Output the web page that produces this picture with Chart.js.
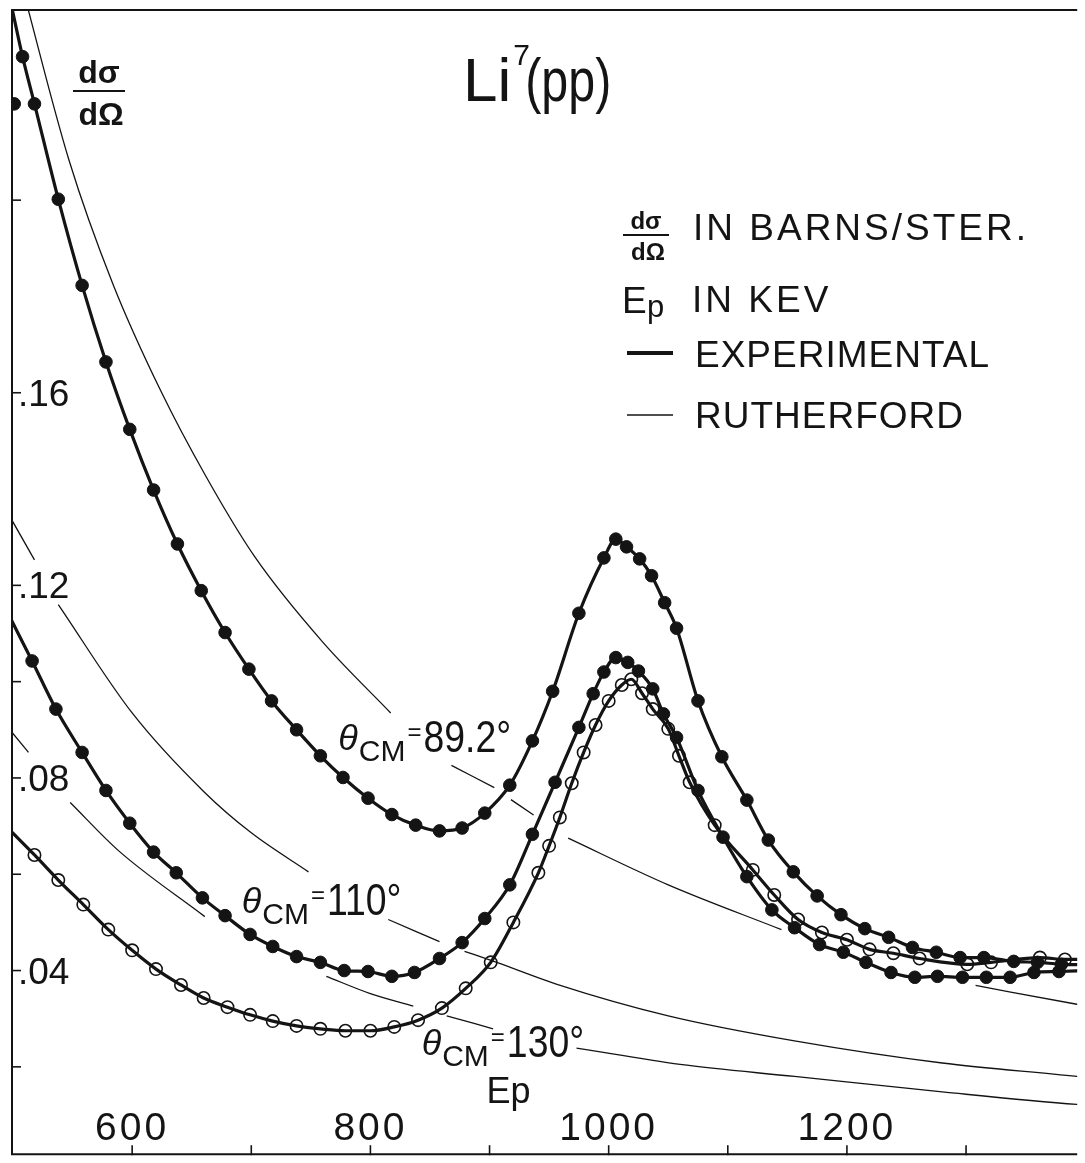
<!DOCTYPE html>
<html lang="en">
<head>
<meta charset="UTF-8">
<title>Li7(pp) elastic scattering</title>
<script src="https://cdn.jsdelivr.net/npm/chart.js"></script>
<style>
  html, body { margin: 0; padding: 0; background: #fff; }
  canvas { display: block; }
</style>
</head>
<body>
<canvas id="chart" width="1085" height="1163"></canvas>
<script>
// proton energy Ep (keV) and d(sigma)/d(Omega) (barns/ster)
const e89 = [508, 518, 538, 558, 578, 598, 618, 638, 658, 678, 698, 717, 738, 758, 777, 798, 818, 838, 858, 877, 896, 917, 936, 953,
             975, 996, 1006, 1015, 1026, 1036, 1047, 1057, 1075, 1095, 1116, 1134, 1155, 1175, 1195, 1215, 1235, 1255, 1275, 1295, 1315, 1340, 1360, 1380];
const v89 = [0.2298, 0.2200, 0.2002, 0.1823, 0.1664, 0.1524, 0.1398, 0.1286, 0.1189, 0.1102, 0.1026, 0.0960, 0.0900, 0.0846, 0.0801, 0.0758,
             0.0724, 0.0702, 0.0690, 0.0696, 0.0727, 0.0785, 0.0877, 0.0980, 0.1142, 0.1257, 0.1296, 0.1280, 0.1255, 0.1220, 0.1164, 0.1111,
             0.0960, 0.0844, 0.0754, 0.0671, 0.0605, 0.0555, 0.0516, 0.0487, 0.0469, 0.0448, 0.0438, 0.0427, 0.0427, 0.0419, 0.0417, 0.0413];
const ends89 = [[499, 0.2400], [1400, 0.0412]];

const e110 = [516, 536, 558, 578, 598, 618, 637, 659, 678, 699, 718, 738, 758, 778, 798, 818, 837, 858, 877, 896, 917, 936, 955,
              975, 987, 996, 1006, 1016, 1025, 1037, 1046, 1057, 1075, 1096, 1116, 1137, 1156, 1177, 1197, 1216, 1237, 1257, 1276, 1297, 1317, 1337, 1357, 1378];
const v110 = [0.1043, 0.0943, 0.0853, 0.0774, 0.0706, 0.0646, 0.0603, 0.0551, 0.0514, 0.0475, 0.0450, 0.0429, 0.0417, 0.0400, 0.0398, 0.0388,
              0.0396, 0.0425, 0.0458, 0.0508, 0.0578, 0.0683, 0.0791, 0.0905, 0.0975, 0.1020, 0.1050, 0.1040, 0.1022, 0.0985, 0.0933, 0.0884,
              0.0774, 0.0677, 0.0595, 0.0526, 0.0489, 0.0454, 0.0438, 0.0417, 0.0396, 0.0386, 0.0388, 0.0386, 0.0386, 0.0386, 0.0396, 0.0398];
const ends110 = [[498, 0.1131], [1400, 0.0400]];

const e130 = [518, 538, 559, 580, 600, 620, 641, 660, 680, 699, 718, 738, 758, 779, 800, 820, 840, 860, 880, 901, 920, 941, 950, 959,
              969, 979, 989, 1000, 1011, 1019, 1028, 1037, 1050, 1059, 1068, 1089, 1121, 1139, 1159, 1179, 1200, 1219, 1239, 1261, 1301, 1321, 1362, 1383];
const v130 = [0.0640, 0.0588, 0.0537, 0.0485, 0.0442, 0.0403, 0.0370, 0.0343, 0.0324, 0.0308, 0.0295, 0.0285, 0.0279, 0.0275, 0.0275, 0.0283,
              0.0297, 0.0322, 0.0363, 0.0417, 0.0500, 0.0603, 0.0659, 0.0718, 0.0789, 0.0853, 0.0910, 0.0960, 0.0993, 0.1005, 0.0976, 0.0943,
              0.0902, 0.0846, 0.0791, 0.0702, 0.0609, 0.0557, 0.0506, 0.0479, 0.0464, 0.0444, 0.0436, 0.0425, 0.0413, 0.0417, 0.0427, 0.0423];
const ends130 = [[498, 0.0690], [1400, 0.0423]];

// lone mark at the left edge
const eLone = [501];
const vLone = [0.2200];

// Rutherford curves, null = pen lifted
const eR89 = [508, 547, 584, 624, 662, 703, 760, 817, 840, 868, 904, 911, 918, 937, 950, 966, 1050, 1145, 1220, 1308, 1393, 1400];
const vR89 = [0.2440, 0.2083, 0.1825, 0.1604, 0.1426, 0.1259, 0.1082, 0.0935, null, 0.0826, 0.0780, null, 0.0755, 0.0723, null, 0.0675,
              0.0578, 0.0485, null, 0.0369, 0.0330, 0.0327];
const eR110 = [498, 518, 528, 538, 600, 660, 700, 748, 780, 815, 858, 868, 879, 906, 956, 1050, 1156, 1280, 1393, 1400];
const vR110 = [0.1340, 0.1253, null, 0.1160, 0.0935, 0.0772, 0.0686, 0.0605, null, 0.0506, 0.0460, null, 0.0440, 0.0417, 0.0372,
               0.0306, 0.0254, 0.0208, 0.0180, 0.0178];
const eR130 = [498, 513, 530, 548, 589, 661, 710, 763, 800, 836, 850, 864, 903, 940, 973, 1060, 1156, 1280, 1393, 1400];
const vR130 = [0.0898, 0.0853, null, 0.0749, 0.0648, 0.0512, null, 0.0388, 0.0352, 0.0326, null, 0.0306, 0.0279, null, 0.0239,
               0.0205, 0.0180, 0.0148, 0.0122, 0.0121];

// axes
const xTicks = [600, 700, 800, 900, 1000, 1100, 1200, 1300];
const xLabels = [600, 800, 1000, 1200];
const yTicks = [0.02, 0.04, 0.06, 0.08, 0.10, 0.12, 0.16, 0.20];
const yLabelVals = [0.04, 0.08, 0.12, 0.16];
const yLabelText = ['.04', '.08', '.12', '.16'];

const ink = '#141414';
const FONT = '"Liberation Sans", Arial, sans-serif';

const pts = (es, vs) => es.map((e, i) => ({ x: e, y: vs[i] }));
const withEnds = (es, vs, ends) =>
  [{ x: ends[0][0], y: ends[0][1] }, ...pts(es, vs), { x: ends[1][0], y: ends[1][1] }];

function expLine(data) {
  return { type: 'line', data, borderColor: ink, borderWidth: 3.2, pointRadius: 0,
           cubicInterpolationMode: 'monotone', order: 2 };
}
function thinLine(data) {
  return { type: 'line', data, borderColor: ink, borderWidth: 1.3, pointRadius: 0, spanGaps: false,
           cubicInterpolationMode: 'monotone', order: 3 };
}
function dots(data, open) {
  return { type: 'scatter', data, showLine: false, order: 1,
           pointRadius: open ? 6.2 : 6.3, pointBorderWidth: open ? 1.6 : 1,
           pointBackgroundColor: open ? 'rgba(255,255,255,0)' : ink, pointBorderColor: ink };
}

function text(ctx, str, px, py, size, opt = {}) {
  ctx.save();
  ctx.font = `${opt.style || 'normal'} ${opt.weight || 'normal'} ${size}px ${FONT}`;
  ctx.letterSpacing = (opt.spacing || 0) + 'px';
  ctx.textAlign = opt.align || 'left';
  ctx.textBaseline = 'alphabetic';
  ctx.fillStyle = ink;
  ctx.translate(px, py);
  ctx.scale(opt.sx || 1, 1);
  ctx.fillText(str, 0, 0);
  const w = ctx.measureText(str).width * (opt.sx || 1);
  ctx.restore();
  return w;
}

function seg(ctx, x1, y1, x2, y2, w) {
  ctx.lineWidth = w;
  ctx.beginPath();
  ctx.moveTo(x1, y1);
  ctx.lineTo(x2, y2);
  ctx.stroke();
}

// theta_CM = ... label, left edge at px, digits baseline at py
function thetaLabel(ctx, px, py, angle) {
  let x = px;
  x += text(ctx, 'θ', x, py - 2, 36, { style: 'italic' }) + 1;
  x += text(ctx, 'CM', x, py + 9, 30) + 2;
  x += text(ctx, '=', x, py - 12, 24) + 2;
  text(ctx, angle + '°', x, py, 44, { sx: 0.85 });
}

function fraction(ctx, cx, top, size, bar) {
  text(ctx, 'dσ', cx, top + size * 0.75, size, { weight: 'bold', align: 'center' });
  seg(ctx, cx - bar / 2, top + size * 1.0, cx + bar / 2, top + size * 1.0, 2);
  text(ctx, 'dΩ', cx + 2, top + size * 2.05, size, { weight: 'bold', align: 'center' });
}

const paper = {
  id: 'paper',
  afterDatasetsDraw(chart) {
    const { ctx, chartArea: a, scales: { x, y } } = chart;
    ctx.save();
    ctx.strokeStyle = ink;
    ctx.lineCap = 'butt';

    // frame: top, left, bottom
    ctx.lineWidth = 2;
    ctx.beginPath();
    ctx.moveTo(a.right, a.top + 1);
    ctx.lineTo(a.left + 1, a.top + 1);
    ctx.lineTo(a.left + 1, a.bottom - 1);
    ctx.lineTo(a.right, a.bottom - 1);
    ctx.stroke();

    // inward ticks
    yTicks.forEach(v => { const py = y.getPixelForValue(v); seg(ctx, a.left, py, a.left + 10, py, 1.6); });
    xTicks.forEach(e => { const px = x.getPixelForValue(e); seg(ctx, px, a.bottom, px, a.bottom - 10, 1.6); });

    // tick labels inside the frame
    yLabelVals.forEach((v, i) => {
      text(ctx, yLabelText[i], a.left + 7, y.getPixelForValue(v) + 13, 37);
    });
    xLabels.forEach(e => {
      text(ctx, String(e), x.getPixelForValue(e), a.bottom - 15, 39, { align: 'center', spacing: 3 });
    });

    // axis titles
    fraction(ctx, a.left + 88, a.top + 50, 32, 52);
    text(ctx, 'Ep', x.getPixelForValue(916), a.bottom - 52, 36, { align: 'center' });

    // title
    let tx = a.left + 452;
    tx += text(ctx, 'Li', tx, a.top + 92, 62);
    text(ctx, '7', tx + 2, a.top + 56, 30);
    text(ctx, '(pp)', tx + 14, a.top + 92, 62, { sx: 0.78 });

    // key
    fraction(ctx, a.left + 635, a.top + 202, 24, 46);
    text(ctx, 'IN BARNS/STER.', a.left + 682, a.top + 231, 37, { spacing: 3 });
    text(ctx, 'E', a.left + 611, a.top + 304, 37);
    text(ctx, 'p', a.left + 636, a.top + 308, 31);
    text(ctx, 'IN KEV', a.left + 681, a.top + 303, 37, { spacing: 3 });
    seg(ctx, a.left + 616, a.top + 344, a.left + 662, a.top + 344, 4);
    text(ctx, 'EXPERIMENTAL', a.left + 684, a.top + 358, 37, { spacing: 1 });
    seg(ctx, a.left + 616, a.top + 406, a.left + 662, a.top + 406, 1.5);
    text(ctx, 'RUTHERFORD', a.left + 684, a.top + 419, 37, { spacing: 1 });

    // curve labels
    thetaLabel(ctx, x.getPixelForValue(773), y.getPixelForValue(0.0853), '89.2');
    thetaLabel(ctx, x.getPixelForValue(692), y.getPixelForValue(0.0516), '110');
    thetaLabel(ctx, x.getPixelForValue(843), y.getPixelForValue(0.0221), '130');

    ctx.restore();
  }
};

new Chart(document.getElementById('chart'), {
  data: {
    datasets: [
      thinLine(pts(eR89, vR89)),
      thinLine(pts(eR110, vR110)),
      thinLine(pts(eR130, vR130)),
      expLine(withEnds(e89, v89, ends89)),
      expLine(withEnds(e110, v110, ends110)),
      expLine(withEnds(e130, v130, ends130)),
      dots(pts(e89, v89), false),
      dots(pts(e110, v110), false),
      dots(pts(e130, v130), true),
      dots(pts(eLone, vLone), false)
    ]
  },
  options: {
    responsive: false,
    animation: false,
    devicePixelRatio: 1,
    layout: { padding: { left: 11, top: 9, right: 0, bottom: 1 } },
    plugins: { legend: { display: false }, tooltip: { enabled: false } },
    scales: {
      x: { type: 'linear', min: 498.3, max: 1393.3, display: false },
      y: { type: 'linear', min: 0.00165, max: 0.2397, display: false }
    }
  },
  plugins: [paper]
});
</script>
</body>
</html>
